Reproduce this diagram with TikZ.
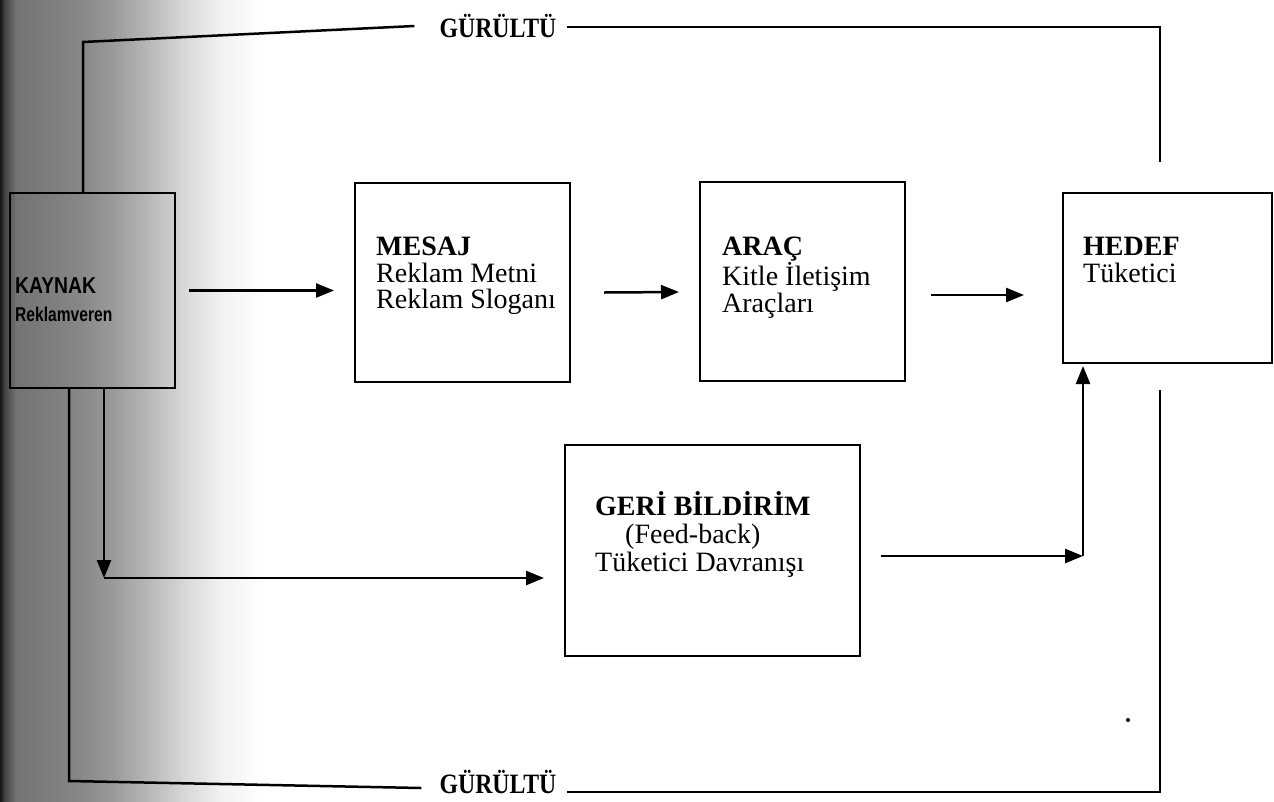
\documentclass[tikz,border=0pt]{standalone}
\usepackage{fontspec}
\setmainfont{Liberation Serif}
\newfontfamily\kfont{Liberation Sans}
\usetikzlibrary{arrows.meta,calc}

% grey page shadow along the left margin (stops mapped onto 25bp..75bp)
\pgfdeclarehorizontalshading{scanshadow}{100bp}{%
  color(0bp)=(black!92); color(25bp)=(black!92); color(26bp)=(black!72);
  color(28bp)=(black!55); color(40bp)=(black!47); color(46bp)=(black!40);
  color(53bp)=(black!28); color(60bp)=(black!15); color(67bp)=(black!5);
  color(75bp)=(white); color(100bp)=(white)}

\begin{document}
\begin{tikzpicture}[x=1pt,y=-1pt,
  box/.style={draw, line width=2pt, inner sep=0pt},
  txt/.style={font=\fontsize{28}{26.5}\selectfont, align=left, inner sep=0pt, anchor=north west},
  wire/.style={line width=2.5pt},
  arr/.style={wire, -{Triangle[length=18pt,width=14pt]}},
  noise/.style={font=\fontsize{28}{30}\selectfont\bfseries, inner sep=0pt}]

\useasboundingbox (0,0) rectangle (1274,801);
\fill[white] (0,0) rectangle (1274,801);
\shade[shading=scanshadow] (0,0) rectangle (265,801);

% boxes
\node[box, minimum width=165pt, minimum height=195pt] (kaynak) at (92.5,290.5) {};
\node[box, minimum width=215pt, minimum height=199pt] (mesaj)  at (462.5,282.5) {};
\node[box, minimum width=205pt, minimum height=199pt] (arac)   at (802.5,281.5) {};
\node[box, minimum width=209pt, minimum height=170pt] (hedef)  at (1167.5,278) {};
\node[box, minimum width=295pt, minimum height=211pt] (geri)   at (712.5,550.5) {};

% box texts
\node[anchor=base west, inner sep=0pt, font=\kfont\bfseries\fontsize{23}{24}\selectfont]
  (kaynakA) at (15,293) {\scalebox{0.84}[1]{KAYNAK}};
\node[anchor=base west, inner sep=0pt, font=\kfont\bfseries\fontsize{20}{21}\selectfont]
  (kaynakB) at (15,321) {\scalebox{0.78}[1]{Reklamveren}};
\node[txt] (mesajT) at (376,237) {\textbf{MESAJ}\\Reklam Metni\\Reklam Sloganı};
\node[txt] (aracT)  at (722,237) {\textbf{ARAÇ}\\Kitle İletişim\\Araçları};
\node[txt] (hedefT) at (1083,237) {\textbf{HEDEF}\\Tüketici};
\node[txt, font=\fontsize{28}{28}\selectfont] (geriT) at (595,491)
  {\textbf{GERİ BİLDİRİM}\\\hspace*{30pt}(Feed-back)\\Tüketici Davranışı};

% forward flow
\draw[arr] ($(kaynak.east)+(13,0)$) -- ($(mesaj.west)+(-20,8)$);
\draw[arr] ($(mesaj.east)+(33,10)$) -- ($(arac.west)+(-20,10.5)$);
\draw[arr] ($(arac.east)+(25,13.5)$) -- ($(hedef.west)+(-38,17)$);

% feedback loop
\coordinate (fbCorner) at (104,578);
\coordinate (fbRight)  at (1083,556);
\draw[arr] (kaynak.south -| fbCorner) -- (fbCorner);
\draw[arr] (fbCorner) -- ($(geri.west)+(-20,27.5)$);
\draw[arr] ($(geri.east)+(20,5.5)$) -- (fbRight);
\draw[arr] (fbRight) -- ($(hedef.south -| fbRight)+(0,2)$);

% noise, top
\node[noise] (gTop) at (498,26) {\scalebox{0.85}[1]{GÜRÜLTÜ}};
\coordinate (nTL) at (83,42);
\coordinate (nTR) at (1160,27);
\draw[wire] (kaynak.north -| nTL) -- (nTL) -- ($(gTop.west)+(-25,0)$);
\draw[wire] ($(gTop.east)+(10,1)$) -- (nTR) -- ($(hedef.north -| nTR)+(0,-30)$);

% noise, bottom
\node[noise] (gBot) at (498,782) {\scalebox{0.85}[1]{GÜRÜLTÜ}};
\coordinate (nBL) at (69,781);
\coordinate (nBR) at (1160,792);
\coordinate (nRB) at (1160,390);
\draw[wire] (kaynak.south -| nBL) -- (nBL) -- ($(gBot.west)+(-18,6)$);
\draw[wire] ($(gBot.east)+(10,10)$) -- (nBR) -- (nRB);

% stray speck
\fill (1128,720) circle (2pt);
\end{tikzpicture}
\end{document}
